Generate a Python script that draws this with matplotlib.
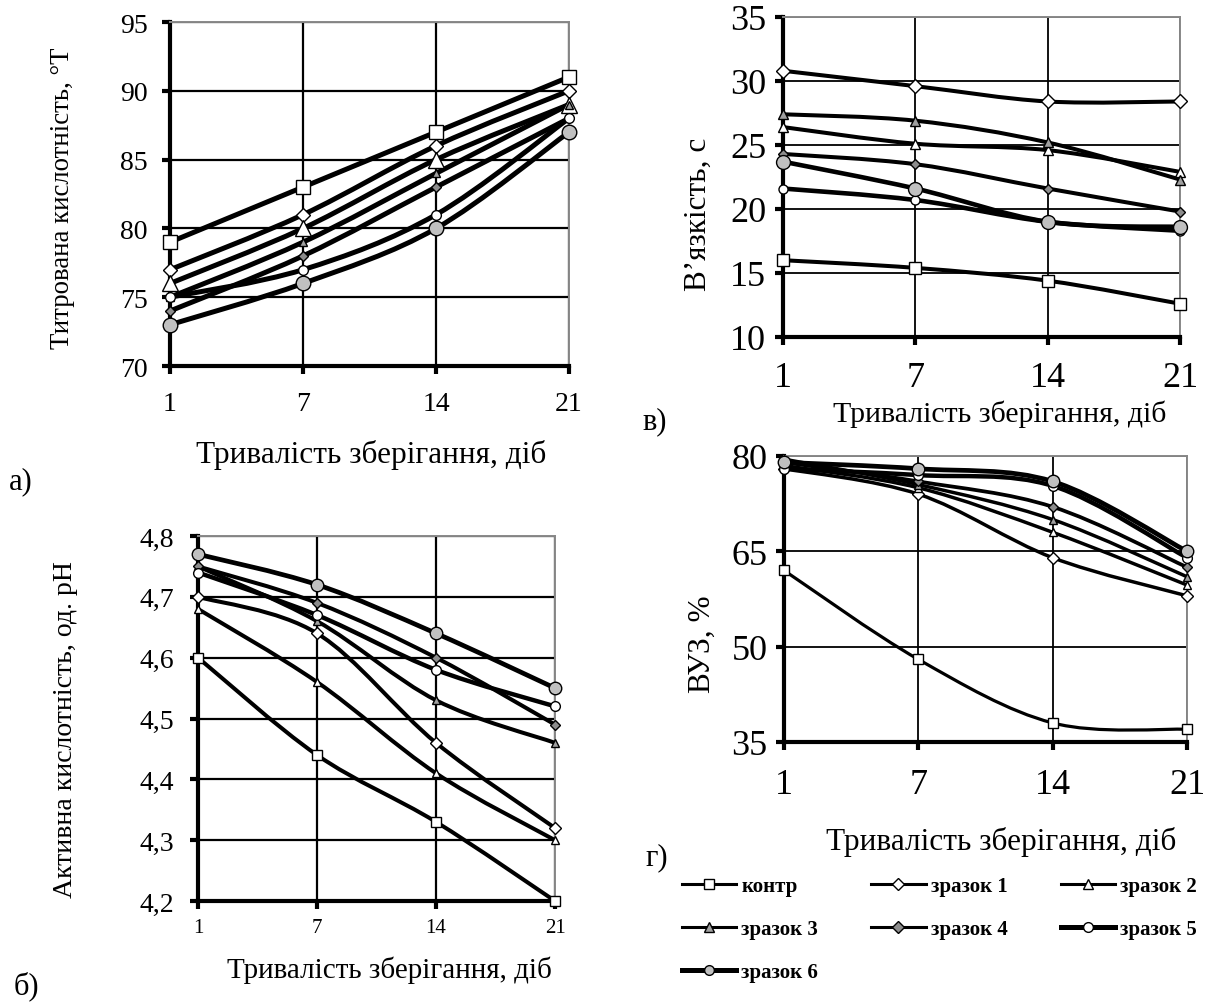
import numpy as np
import matplotlib
matplotlib.use("Agg")
import matplotlib.pyplot as plt
from matplotlib.path import Path
from matplotlib.patches import PathPatch
from matplotlib.lines import Line2D

plt.rcParams['font.family'] = ['Liberation Serif', 'DejaVu Serif']

# ---------------- data ----------------
days = ["1", "7", "14", "21"]
series_names = ["контр", "зразок 1", "зразок 2", "зразок 3", "зразок 4", "зразок 5", "зразок 6"]

# a) titratable acidity, °T
acid_t = {
    "контр":    [79, 83, 87, 91],
    "зразок 1": [77, 81, 86, 90],
    "зразок 2": [76, 80, 85, 89],
    "зразок 3": [75, 79, 84, 89],
    "зразок 4": [74, 78, 83, 88],
    "зразок 5": [75, 77, 81, 88],
    "зразок 6": [73, 76, 80, 87],
}
# б) active acidity, pH
acid_ph = {
    "контр":    [4.60, 4.44, 4.33, 4.20],
    "зразок 1": [4.70, 4.64, 4.46, 4.32],
    "зразок 2": [4.68, 4.56, 4.41, 4.30],
    "зразок 3": [4.75, 4.66, 4.53, 4.46],
    "зразок 4": [4.75, 4.69, 4.60, 4.49],
    "зразок 5": [4.74, 4.67, 4.58, 4.52],
    "зразок 6": [4.77, 4.72, 4.64, 4.55],
}
# в) viscosity, s
viscosity = {
    "контр":    [16.0, 15.4, 14.4, 12.6],
    "зразок 1": [30.8, 29.6, 28.4, 28.4],
    "зразок 2": [26.4, 25.1, 24.6, 22.9],
    "зразок 3": [27.4, 26.9, 25.2, 22.3],
    "зразок 4": [24.3, 23.5, 21.6, 19.8],
    "зразок 5": [21.6, 20.7, 19.0, 18.3],
    "зразок 6": [23.7, 21.6, 19.0, 18.6],
}
# г) water-holding capacity, %
vuz = {
    "контр":    [62.0, 48.0, 38.0, 37.0],
    "зразок 1": [78.0, 74.0, 64.0, 58.0],
    "зразок 2": [78.5, 75.0, 68.0, 59.7],
    "зразок 3": [79.5, 75.5, 70.0, 61.0],
    "зразок 4": [79.0, 76.0, 72.0, 62.5],
    "зразок 5": [78.0, 77.0, 75.3, 64.0],
    "зразок 6": [79.0, 78.0, 76.0, 65.0],
}

xlabel = "Тривалість зберігання, діб"

# ---------------- styles ----------------
W, H = 1210, 1003
fig = plt.figure(figsize=(W / 100, H / 100), dpi=100)

markers = {"контр": 's', "зразок 1": 'D', "зразок 2": '^', "зразок 3": '^',
           "зразок 4": 'D', "зразок 5": 'o', "зразок 6": 'o'}
faces = {"контр": 'white', "зразок 1": 'white', "зразок 2": 'white', "зразок 3": '#a0a0a0',
         "зразок 4": '#8c8c8c', "зразок 5": 'white', "зразок 6": '#c0c0c0'}


def px_axes(l, t, r, b):
    return fig.add_axes([l / W, 1 - b / H, (r - l) / W, (b - t) / H])


def smooth_path(xs, ys):
    pts = np.column_stack([xs, ys]).astype(float)
    n = len(pts)
    verts = [pts[0]]
    codes = [Path.MOVETO]
    for i in range(n - 1):
        p0 = pts[i - 1] if i > 0 else pts[i]
        p1 = pts[i]
        p2 = pts[i + 1]
        p3 = pts[i + 2] if i + 2 < n else pts[i + 1]
        c1 = p1 + (p2 - p0) / 6.0
        c2 = p2 - (p3 - p1) / 6.0
        verts += [c1, c2, p2]
        codes += [Path.CURVE4] * 3
    return Path(verts, codes)


def style_axes(ax, ylim, yticks, yfmt, tick_fs, xpad, ypad, grid_lw, spine_lw):
    ax.set_xlim(0, 3)
    ax.set_ylim(*ylim)
    ax.set_xticks(range(4))
    ax.set_xticklabels(days)
    ax.set_yticks(yticks)
    ax.set_yticklabels([yfmt(v) for v in yticks])
    for side in ("left", "bottom"):
        ax.spines[side].set_linewidth(spine_lw)
        ax.spines[side].set_color('black')
    for side in ("top", "right"):
        ax.spines[side].set_linewidth(1.4)
        ax.spines[side].set_color('#888888')
    ax.grid(True, color='black', linewidth=grid_lw)
    ax.set_axisbelow(True)
    ax.tick_params(axis='both', direction='out', length=6, width=spine_lw, color='black')
    ax.tick_params(axis='x', labelsize=tick_fs[0], pad=xpad)
    ax.tick_params(axis='y', labelsize=tick_fs[1], pad=ypad)
    ax.patch.set_alpha(0)


def draw(ax, data, lws, msizes):
    x = np.arange(4)
    for i, name in enumerate(series_names):
        y = data[name]
        patch = PathPatch(smooth_path(x, y), facecolor='none', edgecolor='black',
                          linewidth=lws[i], capstyle='round', joinstyle='round',
                          transform=ax.transData, zorder=3, clip_on=False)
        ax.add_patch(patch)
    for i, name in enumerate(series_names):
        ax.plot(x, data[name], linestyle='none', marker=markers[name],
                markersize=msizes[i], markerfacecolor=faces[name],
                markeredgecolor='black', markeredgewidth=1.0, zorder=4, clip_on=False)


comma = lambda v: f"{v:.1f}".replace('.', ',')
intf = lambda v: f"{int(v)}"

# a)
ax_a = px_axes(170, 23, 569, 367)
style_axes(ax_a, (70, 95), [70, 75, 80, 85, 90, 95], intf, (20, 20), 12, 10, 1.6, 3.0)
draw(ax_a, acid_t, [3.6] * 7, [9.5, 7.5, 11, 6, 5.5, 7, 10.5])

# в)
ax_v = px_axes(783, 18, 1180, 338)
style_axes(ax_v, (10, 35), [10, 15, 20, 25, 30, 35], intf, (26, 26), 11, 6, 1.3, 3.0)
draw(ax_v, viscosity, [2.9, 2.9, 2.9, 2.9, 2.9, 3.3, 3.3], [9, 7, 7.5, 7.5, 5, 6.5, 10])

# б)
ax_b = px_axes(198, 537, 555, 902)
style_axes(ax_b, (4.2, 4.8), [4.2, 4.3, 4.4, 4.5, 4.6, 4.7, 4.8], comma, (15, 20), 6, 11, 1.6, 3.0)
draw(ax_b, acid_ph, [2.9, 2.9, 2.9, 2.9, 2.9, 3.2, 3.4], [7, 6, 6, 6, 5, 7, 9])

# г)
ax_g = px_axes(784, 457, 1187, 743)
style_axes(ax_g, (35, 80), [35, 50, 65, 80], intf, (26, 26), 13, 6, 1.3, 3.0)
draw(ax_g, vuz, [2.3, 2.5, 2.5, 2.5, 2.7, 3.2, 3.4], [7, 6, 6, 6, 5, 7, 9])


def ftext(x, y, s, size, **kw):
    fig.text(x / W, 1 - y / H, s, fontsize=size, ha='center', va='center', **kw)


# axis titles
ftext(63, 198, "Титрована кислотність, °Т", 19.3, rotation=90)
ftext(371, 455, xlabel, 22.5)
ftext(21, 482, "а)", 22)

ftext(66, 730, "Активна кислотність, од. рН", 20, rotation=90)
ftext(389, 970, xlabel, 21)
ftext(26, 986, "б)", 22)

ftext(698, 214, "В’язкість, с", 22.5, rotation=90)
ftext(1000, 414, xlabel, 21.5)
ftext(655, 422, "в)", 22)

ftext(702, 644, "ВУЗ, %", 22.5, rotation=90)
ftext(1001, 842, xlabel, 22.5)
ftext(657, 858, "г)", 22)

# legend (row-wise order like the original)
leg_lw = [2.2, 2.2, 2.2, 2.2, 2.2, 3.6, 3.6]
handles = {}
for i, name in enumerate(series_names):
    handles[name] = Line2D([0], [0], color='black', linewidth=leg_lw[i], marker=markers[name],
                           markersize=7 if markers[name] != 'D' else 6,
                           markerfacecolor=faces[name], markeredgecolor='black',
                           markeredgewidth=1.0)
order = ["контр", "зразок 3", "зразок 6", "зразок 1", "зразок 4", "зразок 2", "зразок 5"]
fig.legend([handles[n] for n in order], order, ncol=3, loc='upper left',
           bbox_to_anchor=(682 / W, 1 - 877 / H), frameon=False,
           prop={'weight': 'bold', 'size': 15}, handlelength=2.6, handletextpad=0.25,
           columnspacing=2.55, labelspacing=1.1, borderpad=0, borderaxespad=0)

fig.savefig("out.png", dpi=100)
